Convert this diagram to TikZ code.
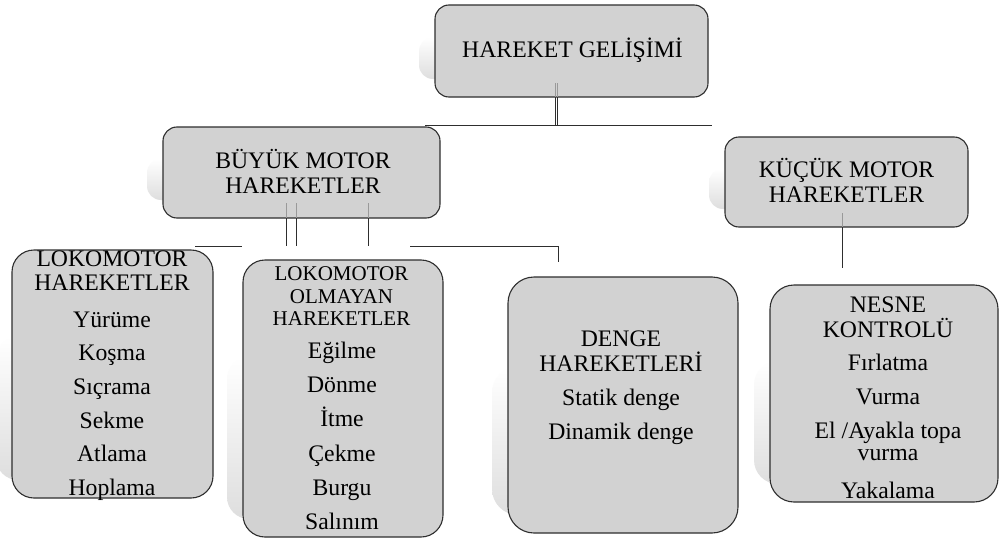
\documentclass[tikz,border=0pt]{standalone}
\usepackage{fontspec}
\setmainfont{Liberation Serif}
\definecolor{boxgray}{HTML}{D2D2D2}
\definecolor{edgegray}{HTML}{2E2E2E}
\newcommand\mkshadow[5]{%
  \shade[top color=white, bottom color=black!13, rounded corners=#5]
    ({#1-16},{#2+0.35*(#4-#2)}) rectangle ({#3-16},{#4-18});}
\begin{document}
\begin{tikzpicture}[x=1pt,y=-1pt,
  box/.style={draw=edgegray, line width=1.1pt, fill=boxgray, rounded corners=#1, inner sep=0pt},
  box/.default=14pt,
  conn/.style={draw=edgegray, line width=1pt},
  inner/.style={draw=black!40, line width=1pt},
  txt/.style={font=\fontsize{23.7}{25}\selectfont, inner sep=0pt, anchor=base},
  smalltxt/.style={font=\fontsize{21}{23}\selectfont, inner sep=0pt, anchor=base}]
\useasboundingbox[fill=white] (0,0) rectangle (999,538);

% shadows
\mkshadow{435}{5}{708}{97}{14pt}
\mkshadow{163}{127}{440}{218}{14pt}
\mkshadow{725}{137}{968}{227}{14pt}
\mkshadow{12}{250}{213}{498}{22pt}
\mkshadow{243}{260}{443}{537}{22pt}
\mkshadow{508}{277}{738}{533}{26pt}
\mkshadow{770}{285}{998}{502}{24pt}

% boxes
\node[box, minimum width=273pt, minimum height=92pt] (top) at (571.5,51) {};
\node[box, minimum width=277pt, minimum height=91pt] (big) at (301.5,172.5) {};
\node[box, minimum width=243pt, minimum height=90pt] (small) at (846.5,182) {};
\node[box=22pt, minimum width=201pt, minimum height=248pt] (loco) at (112.5,374) {};
\node[box=22pt, minimum width=200pt, minimum height=277pt] (nonloco) at (343,398.5) {};
\node[box=26pt, minimum width=230pt, minimum height=256pt] (bal) at (623,405) {};
\node[box=24pt, minimum width=228pt, minimum height=217pt] (obj) at (884,393.5) {};

% junction coordinates
\coordinate (ta1) at (555,83);   \coordinate (tb1) at (555,97);   \coordinate (tc1) at (555,125);
\coordinate (ta2) at (557.5,83); \coordinate (tb2) at (557.5,97); \coordinate (tc2) at (557.5,125);
\coordinate (hL) at (425,125);   \coordinate (hR) at (712,125);
\coordinate (ba1) at (286.5,203); \coordinate (bb1) at (286.5,218); \coordinate (bc1) at (286.5,246);
\coordinate (ba2) at (296,203);   \coordinate (bb2) at (296,218);   \coordinate (bc2) at (296,246);
\coordinate (ba3) at (368.5,203); \coordinate (bb3) at (368.5,218); \coordinate (bc3) at (368.5,246);
\coordinate (l1) at (195,246.5); \coordinate (l2) at (242,246.5);
\coordinate (r1) at (410,246.5); \coordinate (r2) at (558,246.5); \coordinate (r3) at (558,262);
\coordinate (sa) at (842,213); \coordinate (sb) at (842,227); \coordinate (sc) at (842,268);

% connectors
\draw[inner] (ta1) -- (tb1) (ta2) -- (tb2);
\draw[conn] (tb1) -- (tc1) (tb2) -- (tc2);
\draw[conn] (hL) -- (hR);
\draw[inner] (ba1) -- (bb1) (ba2) -- (bb2) (ba3) -- (bb3);
\draw[conn] (bb1) -- (bc1) (bb2) -- (bc2) (bb3) -- (bc3);
\draw[conn] (l1) -- (l2);
\draw[conn] (r1) -- (r2) -- (r3);
\draw[inner] (sa) -- (sb);
\draw[conn] (sb) -- (sc);

% texts
\node[txt] (topT) at (572.5,57.5) {HAREKET GELİŞİMİ};
\foreach \y/\s [count=\i] in {168.5/BÜYÜK MOTOR, 193.5/HAREKETLER}
  \node[txt] (bigT\i) at (303,\y) {\s};
\foreach \y/\s [count=\i] in {177/KÜÇÜK MOTOR, 202/HAREKETLER}
  \node[txt] (smallT\i) at (846.5,\y) {\s};
\foreach \y/\s [count=\i] in {266.5/LOKOMOTOR, 290/HAREKETLER, 327/Yürüme, 360.5/Koşma, 394/Sıçrama, 428/Sekme, 461.5/Atlama, 495/Hoplama}
  \node[txt] (locoT\i) at (112,\y) {\s};
\foreach \y/\s [count=\i] in {280.5/LOKOMOTOR, 303/OLMAYAN, 325/HAREKETLER}
  \node[smalltxt] (nonlocoH\i) at (341.5,\y) {\s};
\foreach \y/\s [count=\i] in {358.5/Eğilme, 392.5/Dönme, 426.5/İtme, 461/Çekme, 495/Burgu, 529/Salınım}
  \node[txt] (nonlocoT\i) at (342,\y) {\s};
\foreach \y/\s [count=\i] in {346.5/DENGE, 371.5/HAREKETLERİ, 405.5/Statik denge, 439/Dinamik denge}
  \node[txt] (balT\i) at (621,\y) {\s};
\foreach \y/\s [count=\i] in {312/NESNE, 337/KONTROLÜ, 370.5/Fırlatma, 404/Vurma, 438.5/{El /Ayakla topa}, 460.5/vurma, 498.5/Yakalama}
  \node[txt] (objT\i) at (888,\y) {\s};
\end{tikzpicture}
\end{document}
